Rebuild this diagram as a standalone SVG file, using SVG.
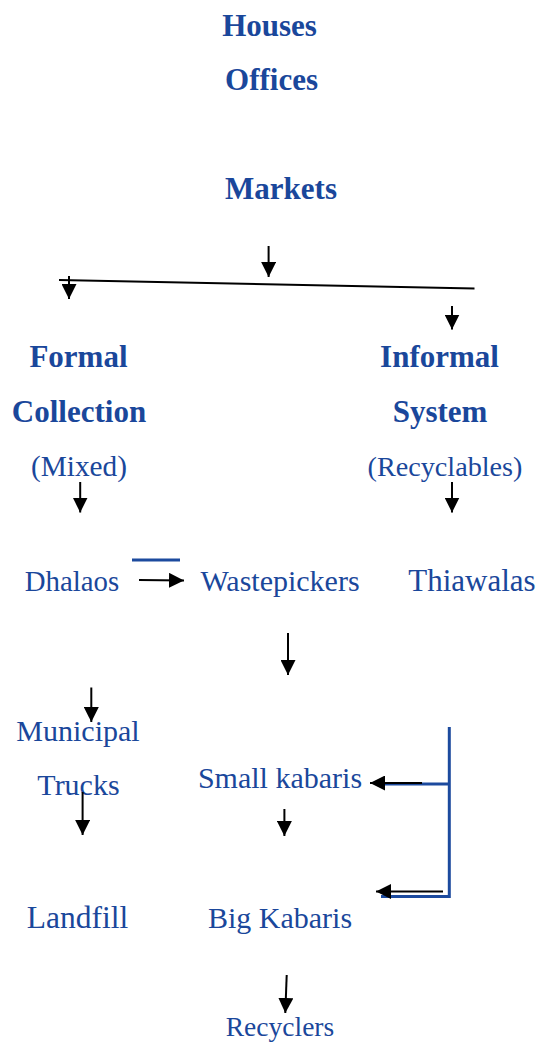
<svg xmlns="http://www.w3.org/2000/svg" width="540" height="1044" viewBox="0 0 540 1044">
<defs>
<style>
text{font-family:"Liberation Serif","Times New Roman",serif;fill:#1a479b;text-anchor:middle}
.b{font-weight:bold;font-size:31px}
.r{font-size:30px}
.k{stroke:#000;stroke-width:2;fill:none}
.a{stroke:#000;stroke-width:2;fill:none;marker-end:url(#ah)}
.bl{stroke:#1c4a9e;stroke-width:3;fill:none}
</style>
<marker id="ah" viewBox="0 0 15 15" markerWidth="15" markerHeight="15" refX="15" refY="7.5" orient="auto" markerUnits="userSpaceOnUse">
<path d="M0,0 L15,7.5 L0,15 z" fill="#000"/>
</marker>
</defs>
<rect width="540" height="1044" fill="#fff"/>
<g id="sources">
<text class="b" x="269.5" y="36">Houses</text>
<text class="b" x="271.5" y="90">Offices</text>
<text class="b" x="281" y="199">Markets</text>
</g>
<g id="formal">
<text class="b" x="78.5" y="367">Formal</text>
<text class="b" x="79" y="422">Collection</text>
<text class="r" x="79" y="476" style="font-size:29.3px">(Mixed)</text>
</g>
<g id="informal">
<text class="b" x="439.5" y="367">Informal</text>
<text class="b" x="440" y="422">System</text>
<text class="r" x="445" y="476" style="font-size:28.2px">(Recyclables)</text>
</g>
<g id="dhalaos"><text class="r" x="72" y="591" style="font-size:28.8px">Dhalaos</text></g>
<g id="wastepickers"><text class="r" x="280" y="591">Wastepickers</text></g>
<g id="thiawalas"><text class="r" x="472" y="591" style="font-size:31px">Thiawalas</text></g>
<g id="municipal">
<text class="r" x="78" y="741">Municipal</text>
<text class="r" x="78.5" y="795">Trucks</text>
</g>
<g id="small"><text class="r" x="280" y="788">Small kabaris</text></g>
<g id="landfill"><text class="r" x="77.5" y="928" style="font-size:31.5px">Landfill</text></g>
<g id="big"><text class="r" x="280" y="928">Big Kabaris</text></g>
<g id="recyclers"><text class="r" x="280" y="1036" style="font-size:27.5px">Recyclers</text></g>
<g id="connectors">
<line class="a" x1="268.6" y1="246" x2="268.6" y2="277"/>
<line class="k" x1="59" y1="280" x2="474.5" y2="288.5"/>
<line class="a" x1="69" y1="276" x2="69" y2="299"/>
<line class="a" x1="452" y1="306" x2="452" y2="329.5"/>
<line class="a" x1="80.2" y1="482" x2="80.2" y2="512.5"/>
<line class="a" x1="452" y1="482" x2="452" y2="512.5"/>
<line class="bl" x1="132" y1="560" x2="180" y2="560"/>
<line class="a" x1="139" y1="580" x2="184" y2="580.5"/>
<line class="a" x1="288" y1="633" x2="288" y2="675"/>
<line class="a" x1="91.3" y1="687.5" x2="91.3" y2="722"/>
<line class="a" x1="82.6" y1="792" x2="82.6" y2="835"/>
<line class="a" x1="284.4" y1="809" x2="284.4" y2="836"/>
<line class="bl" x1="449.3" y1="727" x2="449.3" y2="898"/>
<line class="bl" x1="385" y1="784" x2="449.3" y2="784"/>
<line class="bl" x1="381" y1="896.5" x2="449.3" y2="896.5"/>
<line class="a" x1="422" y1="783" x2="370" y2="783"/>
<line class="a" x1="443" y1="891.5" x2="376" y2="891.5"/>
<line class="a" x1="286.7" y1="975" x2="285.3" y2="1013"/>
</g>
</svg>
